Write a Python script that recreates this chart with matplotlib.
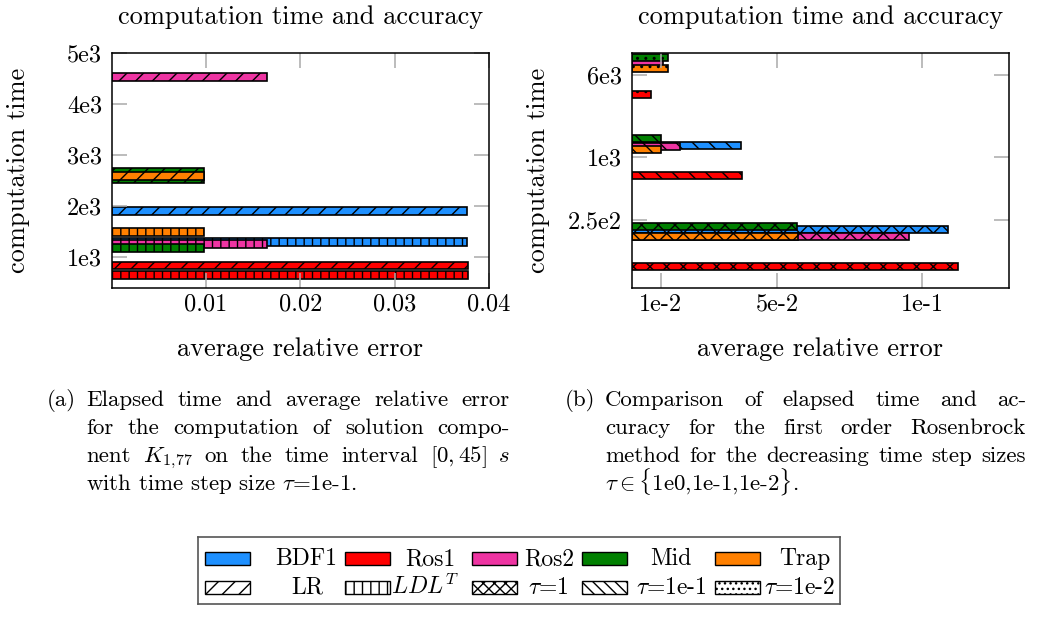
import numpy as np
import matplotlib
matplotlib.use('Agg')
import matplotlib.pyplot as plt
from matplotlib.patches import Rectangle
from matplotlib.ticker import NullLocator

plt.rcParams['font.family'] = ['cmr10', 'DejaVu Serif']
plt.rcParams['mathtext.fontset'] = 'cm'
plt.rcParams['axes.formatter.use_mathtext'] = True
plt.rcParams['hatch.linewidth'] = 1.0

# methods and colours
methods = ['BDF1', 'Ros1', 'Ros2', 'Mid', 'Trap']
colors = ['#1e90ff', '#ff0000', '#ee34a2', '#008000', '#ff8000']

# (a) tau = 1e-1, LR vs LDL^T  -> (error, time)
err_lr = [0.03765, 0.03775, 0.0165, 0.0098, 0.0098]
time_lr = [1904, 838, 4520, 2600, 2590]
err_ldlt = [0.03765, 0.03775, 0.0165, 0.0098, 0.0098]
time_ldlt = [1294, 648, 1255, 1176, 1489]

# (b) runs for tau = 1, 1e-1, 1e-2
err_t1 = [0.109, 0.1123, 0.0957, 0.0569, 0.0574]
time_t1 = [202, 89.6, 173, 217, 175]
err_t01 = [0.0377, 0.0379, 0.01666, 0.0100, 0.0100]
time_t01 = [1292, 658, 1250, 1485, 1176]
err_t001 = [0.0063, 0.0066, 0.0107, 0.0124, 0.0124]
time_t001 = [7980, 3910, 7770, 8850, 6890]

xticks_a = [0.01, 0.02, 0.03, 0.04]
xlabels_a = ['0.01', '0.02', '0.03', '0.04']
yticks_a = [1000, 2000, 3000, 4000, 5000]
ylabels_a = ['1e3', '2e3', '3e3', '4e3', '5e3']
xticks_b = [0.01, 0.05, 0.1]
xlabels_b = ['1e-2', '5e-2', '1e-1']
yticks_b = [250, 1000, 6000]
ylabels_b = ['2.5e2', '1e3', '6e3']

pat_labels = ['LR', '$LDL^T$', r'$\tau$=1', r'$\tau$=1e-1', r'$\tau$=1e-2']
patterns = ['//', '||', 'xxx', '\\\\\\', '...']

W, H = 1039, 617
FS = 19
fig = plt.figure(figsize=(W / 100, H / 100), dpi=100)
axL = fig.add_axes([111.7 / W, 1 - 288 / H, 377.3 / W, 235.3 / H])
axR = fig.add_axes([631.7 / W, 1 - 288 / H, 377.3 / W, 235.3 / H])

# left: linear axis
for errs, times, hatch in [(err_lr, time_lr, '//'), (err_ldlt, time_ldlt, '||')]:
    for i, m in enumerate(methods):
        h = 280 if (m == 'Mid' and hatch == '//') else 150
        axL.barh(times[i], errs[i], height=h, color=colors[i], edgecolor='black',
                 linewidth=1.2, hatch=hatch)

# right: log axis, bars of constant pixel thickness
f = 10 ** (7.0 / 105 / 2)
for errs, times, hatch in [(err_t1, time_t1, 'xx'), (err_t01, time_t01, '\\\\'),
                           (err_t001, time_t001, '..')]:
    t = np.array(times)
    axR.barh(t / f, errs, height=t * f - t / f, align='edge', color=colors,
             edgecolor='black', linewidth=1.2, hatch=hatch)

axL.set_xlim(0, 0.04)
axL.set_ylim(400, 5000)
axL.set_xticks(xticks_a, xlabels_a)
axL.set_yticks(yticks_a, ylabels_a)

axR.set_yscale('log')
axR.set_xlim(0, 0.13)
axR.set_ylim(56, 9800)
axR.set_xticks(xticks_b, xlabels_b)
axR.set_yticks(yticks_b, ylabels_b)
axR.yaxis.set_minor_locator(NullLocator())

for ax in (axL, axR):
    ax.tick_params(direction='in', length=10.5, width=1.1, color='#aaaaaa',
                   top=True, right=True, labelsize=17.5)
    ax.tick_params(axis='y', pad=7)
    ax.tick_params(axis='x', pad=4)
    for s in ax.spines.values():
        s.set_linewidth(1.1)
    ax.set_title('computation time and accuracy', fontsize=FS, pad=21)

for xc in (300.3, 820.3):
    fig.text(xc / W, 1 - 356 / H, 'average relative error', fontsize=FS,
             ha='center', va='baseline')
for xc in (18.5, 538.5):
    fig.text(xc / W, 1 - 170.4 / H, 'computation time', fontsize=FS,
             ha='center', va='center', rotation=90)

# captions, justified line by line
CS = 16.5
renderer = fig.canvas.get_renderer()


def justify(line, x0, x1, ypx, last=False):
    if last:
        fig.text(x0 / W, 1 - ypx / H, line, fontsize=CS, va='baseline')
        return
    words = line.split(' ')
    texts = [fig.text(0, 1 - ypx / H, w, fontsize=CS, va='baseline') for w in words]
    widths = [t.get_window_extent(renderer).width for t in texts]
    gap = (x1 - x0 - sum(widths)) / (len(words) - 1)
    x = x0
    for t, w in zip(texts, widths):
        t.set_x(x / W)
        x += w + gap


cap_a = ['Elapsed time and average relative error',
         'for the computation of solution compo-',
         r'nent $K_{1,\!77}$ on the time interval $[0,45]$ $s$',
         r'with time step size $\tau$=1e-1.']
cap_b = ['Comparison of elapsed time and ac-',
         'curacy for the first order Rosenbrock',
         'method for the decreasing time step sizes',
         r'$\tau \in \{$1e0,1e-1,1e-2$\}$.']
base = [405.7, 434, 462, 490]
fig.text(46.7 / W, 1 - base[0] / H, '(a)', fontsize=CS, va='baseline')
fig.text(564.3 / W, 1 - base[0] / H, '(b)', fontsize=CS, va='baseline')
for k in range(4):
    justify(cap_a[k], 86, 510, base[k], last=(k == 3))
    justify(cap_b[k], 605, 1026, base[k], last=(k == 3))

# legend box (pgfplots style: swatch, then centred label)
lax = fig.add_axes([198 / W, 1 - 604 / H, 642 / W, 67 / H])
lax.set_xlim(198, 840)
lax.set_ylim(604, 537)
lax.set_xticks([])
lax.set_yticks([])
for s in lax.spines.values():
    s.set_edgecolor('#555555')
    s.set_linewidth(1.2)
sw_x = [205, 345, 472, 582, 715]
txt_c = [[306, 430, 549, 671, 805], [307, 425, 548, 671, 800]]
rows = [(558, 565), (587, 594)]
for j in range(5):
    yc, yb = rows[0]
    lax.add_patch(Rectangle((sw_x[j], yc - 6.5), 45, 13, facecolor=colors[j],
                            edgecolor='black', linewidth=1))
    lax.text(txt_c[0][j], yb, methods[j], fontsize=17, ha='center', va='baseline')
    yc, yb = rows[1]
    lax.add_patch(Rectangle((sw_x[j], yc - 6.5), 45, 13, facecolor='white',
                            edgecolor='black', linewidth=1, hatch=patterns[j]))
    lax.text(txt_c[1][j], yb, pat_labels[j], fontsize=17, ha='center', va='baseline')

fig.savefig('out.png', dpi=100)
